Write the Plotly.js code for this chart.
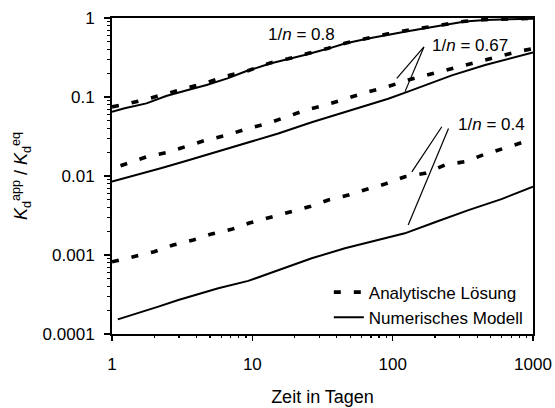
<!DOCTYPE html>
<html>
<head>
<meta charset="utf-8">
<script src="https://cdn.plot.ly/plotly-3.0.1.min.js"></script>
<style>html,body{margin:0;padding:0;background:#fff;}#chart{width:555px;height:408px;}</style>
</head>
<body>
<div id="chart"></div>
<script>
// ---- Data (x: Zeit in Tagen, y: Kd_app/Kd_eq) ----
// 1/n = 0.8
const num08_x = [1, 1.23, 1.76, 2.43, 3.37, 4.72, 6.65, 8.9, 13.4, 18, 23.6, 34.8, 45.7, 67, 93, 122, 170, 236, 328, 456, 700, 1000];
const num08_y = [0.065, 0.072, 0.083, 0.103, 0.121, 0.142, 0.172, 0.21, 0.265, 0.3, 0.34, 0.41, 0.475, 0.55, 0.62, 0.67, 0.74, 0.815, 0.9, 0.945, 0.97, 0.98];
const ana08_x = [1, 1.25, 1.77, 2.43, 3.37, 4.72, 6.65, 9.3, 13.4, 18, 23.6, 34.8, 45.7, 67, 93, 122, 170, 236, 328, 456, 700, 1000];
const ana08_y = [0.075, 0.081, 0.094, 0.111, 0.129, 0.152, 0.186, 0.215, 0.27, 0.305, 0.345, 0.415, 0.48, 0.56, 0.63, 0.69, 0.76, 0.83, 0.91, 0.955, 0.98, 0.99];
// 1/n = 0.67
const num067_x = [1, 1.5, 2.26, 3.5, 5, 9.36, 15.3, 26.5, 45.7, 93, 130, 170, 264, 456, 1000];
const num067_y = [0.0085, 0.0103, 0.0126, 0.0158, 0.019, 0.0265, 0.0345, 0.048, 0.065, 0.095, 0.118, 0.14, 0.188, 0.254, 0.365];
const ana067_x = [1.15, 1.25, 1.77, 2.43, 3.4, 4.72, 6.65, 9.3, 13, 17.9, 24.1, 34.6, 48.8, 67.7, 93, 129, 187, 251, 351, 507, 770, 1000];
const ana067_y = [0.0135, 0.0142, 0.0175, 0.0197, 0.024, 0.0286, 0.033, 0.04, 0.0465, 0.0564, 0.0685, 0.081, 0.099, 0.117, 0.136, 0.164, 0.195, 0.224, 0.26, 0.309, 0.374, 0.41];
// 1/n = 0.4
const num04_x = [1.1, 1.54, 2.14, 2.97, 4.12, 5.72, 9.36, 15.3, 26.5, 45.7, 88.3, 122, 200, 347, 596, 1000];
const num04_y = [0.000153, 0.000183, 0.000222, 0.000269, 0.00032, 0.000379, 0.00047, 0.000646, 0.000908, 0.00122, 0.00163, 0.00188, 0.0026, 0.0037, 0.0051, 0.0073];
const ana04_x = [1, 1.44, 2, 2.73, 3.8, 5.13, 7.1, 9.5, 13.6, 18.5, 25.7, 34.8, 48.3, 65.4, 88, 122, 170, 236, 328, 442, 612, 830, 1000];
const ana04_y = [0.00082, 0.00097, 0.0011, 0.00134, 0.00155, 0.00185, 0.00211, 0.00254, 0.003, 0.00353, 0.0041, 0.00497, 0.00574, 0.00679, 0.0079, 0.0098, 0.0108, 0.0138, 0.0152, 0.0185, 0.0224, 0.0264, 0.029];

// Pointer lines for the labels (data coordinates)
const ptr067_x = [[167, 107], [167, 122.5]];
const ptr067_y = [[0.43, 0.172], [0.43, 0.117]];
const ptr04_x = [[224, 137], [250, 129]];
const ptr04_y = [[0.042, 0.0113], [0.040, 0.0024]];

// Axis ticks
const xTickVals = [1, 10, 100, 1000];
const xTickText = ['1', '10', '100', '1000'];
const yTickVals = [0.0001, 0.001, 0.01, 0.1, 1];
const yTickText = ['0.0001', '0.001', '0.01', '0.1', '1'];

const legendNames = ['Analytische Lösung', 'Numerisches Modell'];
const labels = ['1/<i>n</i> = 0.8', '1/<i>n</i> = 0.67', '1/<i>n</i> = 0.4'];
const labelPos = [[22.5, 0.61], [356, 0.455], [502, 0.0455]];

function minorTicks(lo, hi) {
  const v = [];
  for (let e = lo; e < hi; e++) for (let k = 2; k <= 9; k++) v.push(k * Math.pow(10, e));
  return v;
}

const FONT = 'Liberation Sans, Arial, Helvetica, sans-serif';
const dashStyle = {color: '#000', width: 3.6, dash: '7px,13px'};
const solidStyle = {color: '#000', width: 2};

const traces = [
  {x: num08_x, y: num08_y, mode: 'lines', line: solidStyle, name: legendNames[1], legendgroup: 'n', showlegend: false},
  {x: num067_x, y: num067_y, mode: 'lines', line: solidStyle, name: legendNames[1], legendgroup: 'n', showlegend: false},
  {x: num04_x, y: num04_y, mode: 'lines', line: solidStyle, name: legendNames[1], legendgroup: 'n', showlegend: false},
  {x: ana08_x, y: ana08_y, mode: 'lines', line: dashStyle, name: legendNames[0], legendgroup: 'a', showlegend: true},
  {x: ana067_x, y: ana067_y, mode: 'lines', line: dashStyle, name: legendNames[0], legendgroup: 'a', showlegend: false},
  {x: ana04_x, y: ana04_y, mode: 'lines', line: dashStyle, name: legendNames[0], legendgroup: 'a', showlegend: false},
  {x: [null], y: [null], mode: 'lines', line: solidStyle, name: legendNames[1], legendgroup: 'n', showlegend: true},
  // invisible trace that carries the minor-tick axes
  {x: [1, 1000], y: [0.0001, 1], xaxis: 'x2', yaxis: 'y2', mode: 'lines', line: {width: 0}, opacity: 0, showlegend: false, hoverinfo: 'skip'}
];
[[ptr067_x, ptr067_y], [ptr04_x, ptr04_y]].forEach(([px, py]) => {
  for (let i = 0; i < px.length; i++) {
    traces.push({x: px[i], y: py[i], mode: 'lines', line: {color: '#000', width: 1.2}, showlegend: false, hoverinfo: 'skip'});
  }
});

const annotations = labels.map((t, i) => ({
  x: Math.log10(labelPos[i][0]), y: Math.log10(labelPos[i][1]), xref: 'x', yref: 'y',
  text: t, showarrow: false, font: {family: FONT, size: 17, color: '#000'}
}));

const xMinor = minorTicks(0, 3);
const yMinor = minorTicks(-4, 0);

const layout = {
  width: 555, height: 408,
  margin: {l: 112, r: 22, t: 18, b: 74},
  paper_bgcolor: '#fff', plot_bgcolor: '#fff',
  font: {family: FONT, color: '#000', size: 17},
  showlegend: true,
  legend: {x: 0.515, xanchor: 'left', y: -0.005, yanchor: 'bottom', bgcolor: 'rgba(0,0,0,0)',
           font: {family: FONT, size: 17, color: '#000'}, traceorder: 'normal', tracegroupgap: 2},
  xaxis: {
    type: 'log', range: [0, 3], tickmode: 'array', tickvals: xTickVals, ticktext: xTickText,
    ticks: 'outside', ticklen: 5, tickwidth: 1.5, tickcolor: '#000',
    showline: true, linewidth: 2, linecolor: '#000', mirror: true, showgrid: false, zeroline: false,
    tickfont: {family: FONT, size: 17, color: '#000'}, ticklabelstandoff: 9,
    title: {text: 'Zeit in Tagen', font: {family: FONT, size: 18, color: '#000'}, standoff: 17},
    automargin: false
  },
  yaxis: {
    type: 'log', range: [-4, 0], tickmode: 'array', tickvals: yTickVals, ticktext: yTickText,
    ticks: 'outside', ticklen: 6, tickwidth: 1.5, tickcolor: '#000',
    showline: true, linewidth: 2, linecolor: '#000', mirror: true, showgrid: false, zeroline: false,
    tickfont: {family: FONT, size: 17, color: '#000'}, ticklabelstandoff: 6,
    title: {text: '<i>K</i><sub>d</sub><sup>app</sup> / <i>K</i><sub>d</sub><sup>eq</sup>', font: {family: FONT, size: 18, color: '#000'}, standoff: 10},
    automargin: false
  },
  xaxis2: {
    type: 'log', range: [0, 3], overlaying: 'x', anchor: 'y', side: 'bottom',
    tickmode: 'array', tickvals: xMinor,
    ticks: 'outside', ticklen: 3, tickwidth: 1.2, tickcolor: '#000',
    showline: false, showgrid: false, zeroline: false, showticklabels: false, automargin: false
  },
  yaxis2: {
    type: 'log', range: [-4, 0], overlaying: 'y', anchor: 'x', side: 'left',
    tickmode: 'array', tickvals: yMinor,
    ticks: 'outside', ticklen: 4, tickwidth: 1.2, tickcolor: '#000',
    showline: false, showgrid: false, zeroline: false, showticklabels: false, automargin: false
  },
  annotations: annotations
};

Plotly.newPlot('chart', traces, layout, {displayModeBar: false, staticPlot: true});
</script>
</body>
</html>
